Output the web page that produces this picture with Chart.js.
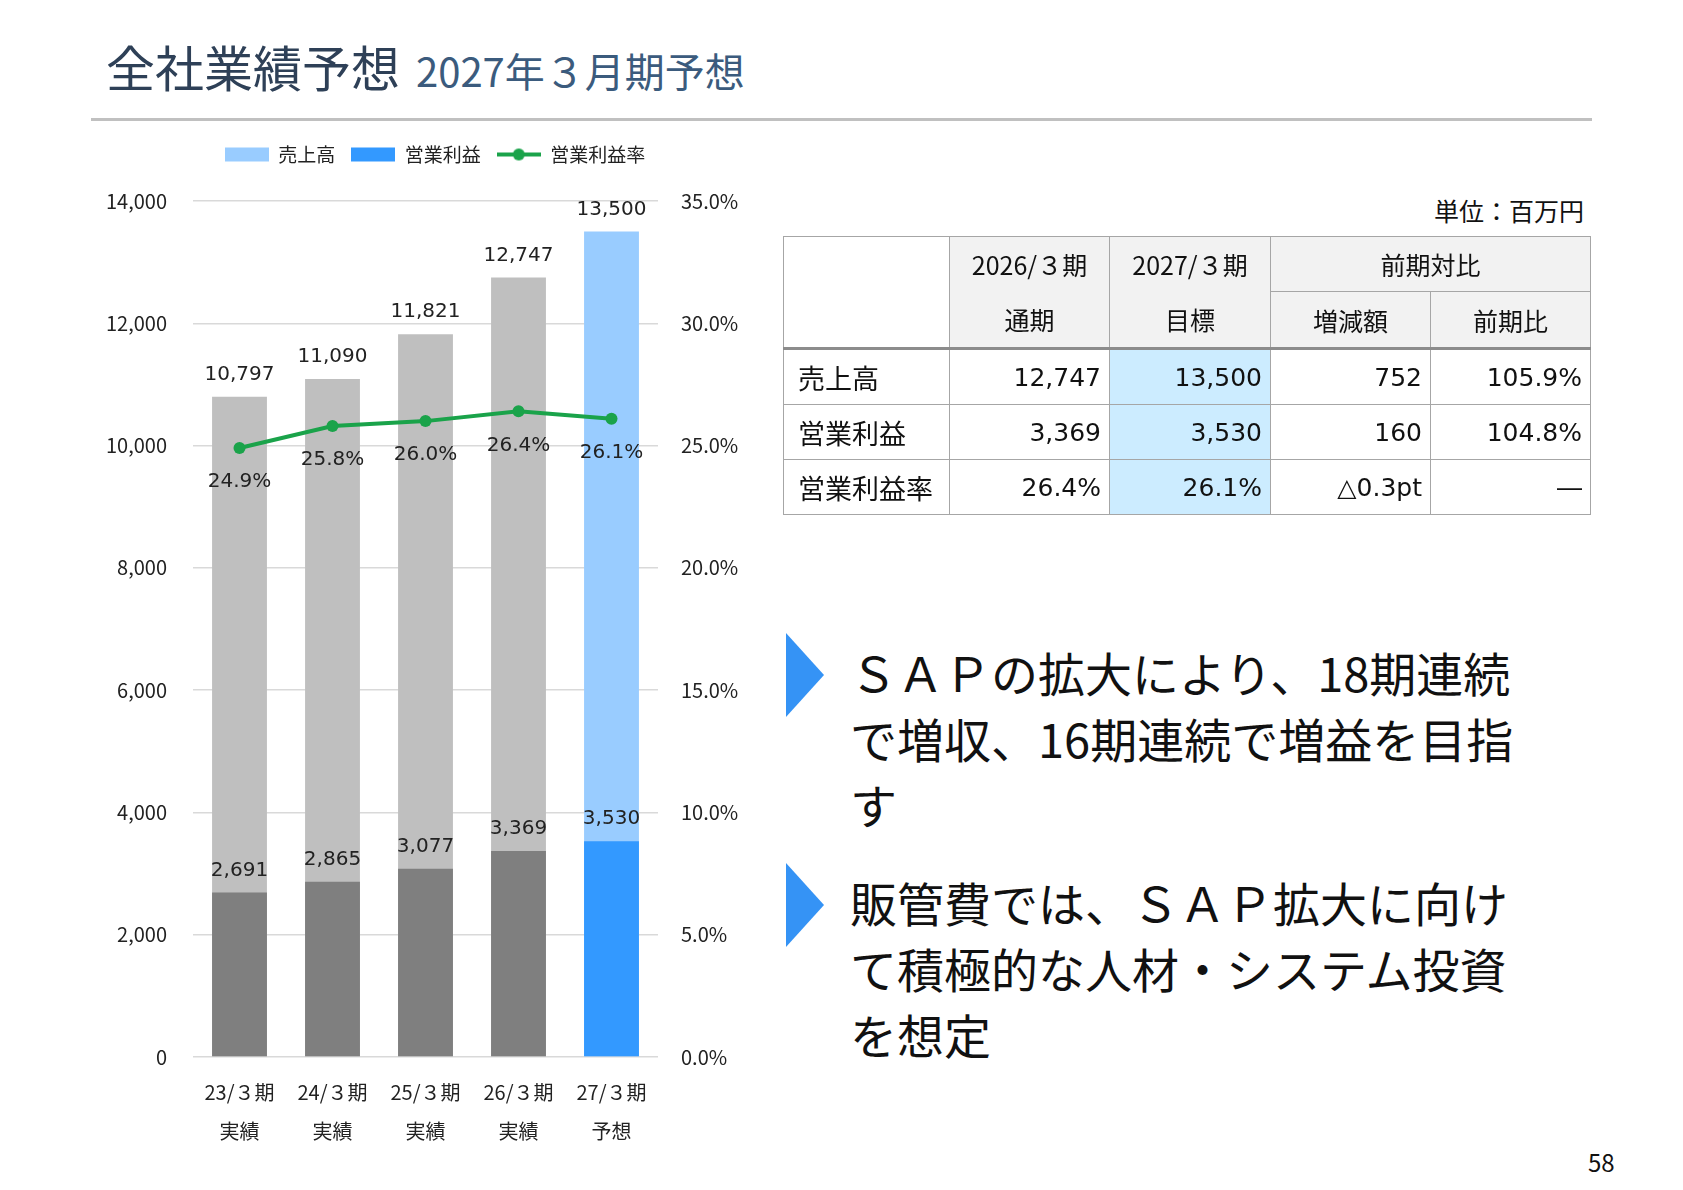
<!DOCTYPE html>
<html lang="ja">
<head>
<meta charset="utf-8">
<script src="https://cdn.jsdelivr.net/npm/chart.js@4.4.1/dist/chart.umd.min.js"></script>
<style>
  html, body { margin: 0; padding: 0; background: #fff; }
  body { width: 1683px; height: 1190px; position: relative; overflow: hidden;
         font-family: "Noto Sans CJK JP", "Noto Sans", sans-serif; color: #111; }
  .title { position: absolute; left: 106px; top: 30px; font-size: 49px; color: #2E4057; white-space: nowrap; }
  .title .sub { font-size: 40px; color: #3B5B7D; margin-left: 16px; }
  .rule { position: absolute; left: 91px; top: 118px; width: 1501px; height: 3px; background: #C0C0C0; }
  #chartBox { position: absolute; left: 85px; top: 129px; width: 700px; height: 1040px; }
  .unit { position: absolute; right: 99px; top: 192px; font-size: 25px; color: #111; }
  table.kpi { position: absolute; left: 783px; top: 236px; border-collapse: collapse; table-layout: fixed; }
  table.kpi td { border: 1.5px solid #A6A6A6; height: 54px; padding: 0 8px; font-size: 26px; white-space: nowrap; }
  table.kpi .h { background: #F2F2F2; text-align: center; font-size: 25px; }
  table.kpi .hh { line-height: 55px; padding: 0; }
  table.kpi td.hb { border-bottom: 3px solid #8C8C8C; }
  table.kpi .lbl { text-align: left; padding-left: 14px; font-size: 27px; }
  table.kpi .num { text-align: right; font-family: "DejaVu Sans", "Noto Sans CJK JP", sans-serif; font-size: 25px; }
  table.kpi .hl { background: #CCECFF; }
  .bullet { position: absolute; left: 786px; width: 0; height: 0; border-top: 42px solid transparent;
            border-bottom: 42px solid transparent; border-left: 38px solid #3593F5; }
  .btext { position: absolute; left: 850px; font-size: 47px; line-height: 66px; color: #111; white-space: nowrap; }
  .page { position: absolute; left: 1588px; top: 1144px; font-size: 24px; }
</style>
</head>
<body>
<div class="title">全社業績予想<span class="sub">2027年３月期予想</span></div>
<div class="rule"></div>

<div id="chartBox"><canvas id="perfChart" width="700" height="1040"></canvas></div>

<div class="unit">単位：百万円</div>
<table class="kpi">
  <colgroup><col style="width:166px"><col style="width:160px"><col style="width:161px"><col style="width:160px"><col style="width:160px"></colgroup>
  <tr>
    <td rowspan="2" class="hb" style="background:#fff"></td>
    <td rowspan="2" class="h hh hb">2026/３期<br>通期</td>
    <td rowspan="2" class="h hh hb">2027/３期<br>目標</td>
    <td colspan="2" class="h">前期対比</td>
  </tr>
  <tr>
    <td class="h hb">増減額</td>
    <td class="h hb">前期比</td>
  </tr>
  <tr>
    <td class="lbl">売上高</td><td class="num">12,747</td><td class="num hl">13,500</td><td class="num">752</td><td class="num">105.9%</td>
  </tr>
  <tr>
    <td class="lbl">営業利益</td><td class="num">3,369</td><td class="num hl">3,530</td><td class="num">160</td><td class="num">104.8%</td>
  </tr>
  <tr>
    <td class="lbl">営業利益率</td><td class="num">26.4%</td><td class="num hl">26.1%</td><td class="num">△0.3pt</td><td class="num">―</td>
  </tr>
</table>

<div class="bullet" style="top:633px"></div>
<div class="btext" style="top:639px">ＳＡＰの拡大により、18期連続<br>で増収、16期連続で増益を目指<br>す</div>
<div class="bullet" style="top:863px"></div>
<div class="btext" style="top:869px">販管費では、ＳＡＰ拡大に向け<br>て積極的な人材・システム投資<br>を想定</div>

<div class="page">58</div>

<script>
// chart data
const categories = [['23/３期', '実績'], ['24/３期', '実績'], ['25/３期', '実績'], ['26/３期', '実績'], ['27/３期', '予想']];
const sales = [10797, 11090, 11821, 12747, 13500];
const operatingProfit = [2691, 2865, 3077, 3369, 3530];
const profitMargin = [24.9, 25.8, 26.0, 26.4, 26.1];
const seriesNames = ['売上高', '営業利益', '営業利益率'];

const salesColors = ['#BFBFBF', '#BFBFBF', '#BFBFBF', '#BFBFBF', '#99CCFF'];
const profitColors = ['#7F7F7F', '#7F7F7F', '#7F7F7F', '#7F7F7F', '#3399FF'];
const lineColor = '#1AA34A';
const axisFont = { family: '"Noto Sans CJK JP", sans-serif', size: 20 };

// legend swatches
function swatch(kind, color) {
    const c = document.createElement('canvas');
    c.width = 44; c.height = 16;
    const g = c.getContext('2d');
    if (kind === 'bar') {
        g.fillStyle = color;
        g.fillRect(0, 1, 44, 14);
    } else {
        g.strokeStyle = color;
        g.lineWidth = 4;
        g.beginPath(); g.moveTo(0, 8); g.lineTo(44, 8); g.stroke();
        g.fillStyle = color;
        g.beginPath(); g.arc(22, 8, 6, 0, Math.PI * 2); g.fill();
    }
    return c;
}
const legendIcons = [swatch('bar', '#99CCFF'), swatch('bar', '#3399FF'), swatch('line', lineColor)];

// value labels on bars and points
const valueLabels = {
    id: 'valueLabels',
    afterDatasetsDraw(chart) {
        const ctx = chart.ctx;
        ctx.save();
        ctx.font = '20px "DejaVu Sans", sans-serif';
        ctx.fillStyle = '#222';
        ctx.textAlign = 'center';
        ctx.textBaseline = 'middle';
        chart.data.datasets.forEach((ds, i) => {
            const meta = chart.getDatasetMeta(i);
            meta.data.forEach((el, j) => {
                const v = ds.data[j];
                if (ds.type === 'line') {
                    ctx.fillText(v.toFixed(1) + '%', el.x, el.y + 34);
                } else {
                    ctx.fillText(v.toLocaleString('en-US'), el.x, el.y - 22);
                }
            });
        });
        ctx.restore();
    }
};

const legendSpace = {
    id: 'legendSpace',
    beforeInit(chart) {
        const fit = chart.legend.fit;
        chart.legend.fit = function () {
            fit.call(this);
            this.height = 72;
        };
    }
};

new Chart(document.getElementById('perfChart'), {
    data: {
        labels: categories,
        datasets: [{
            type: 'bar',
            label: seriesNames[0],
            data: sales,
            backgroundColor: salesColors,
            order: 3
        }, {
            type: 'bar',
            label: seriesNames[1],
            data: operatingProfit,
            backgroundColor: profitColors,
            order: 2
        }, {
            type: 'line',
            label: seriesNames[2],
            data: profitMargin,
            yAxisID: 'y1',
            borderColor: lineColor,
            backgroundColor: lineColor,
            borderWidth: 4,
            pointRadius: 6,
            pointBackgroundColor: lineColor,
            pointBorderWidth: 0,
            order: 1
        }]
    },
    options: {
        responsive: false,
        animation: false,
        layout: { padding: 0 },
        datasets: {
            bar: { grouped: false, barPercentage: 0.59, categoryPercentage: 1.0 }
        },
        scales: {
            x: {
                grid: { display: false },
                border: { display: false },
                ticks: {
                    color: '#222',
                    padding: 8,
                    maxRotation: 0,
                    font: { ...axisFont, lineHeight: 1.95 }
                },
                afterFit(scale) { scale.height = 112; }
            },
            y: {
                position: 'left',
                min: 0, max: 14000,
                ticks: {
                    stepSize: 2000,
                    color: '#222',
                    padding: 26,
                    font: axisFont,
                    callback: v => v.toLocaleString('en-US')
                },
                grid: { color: '#D9D9D9', lineWidth: 1.5, drawTicks: false },
                border: { display: false },
                afterFit(scale) { scale.width = 108; }
            },
            y1: {
                position: 'right',
                min: 0, max: 35,
                ticks: {
                    stepSize: 5,
                    color: '#222',
                    padding: 23,
                    font: axisFont,
                    callback: v => v.toFixed(1) + '%'
                },
                grid: { display: false, drawTicks: false },
                border: { display: false },
                afterFit(scale) { scale.width = 127; }
            }
        },
        plugins: {
            legend: {
                position: 'top',
                labels: {
                    usePointStyle: true,
                    pointStyleWidth: 44,
                    padding: 16,
                    color: '#222',
                    font: { family: '"Noto Sans CJK JP", sans-serif', size: 19 },
                    generateLabels(chart) {
                        return chart.data.datasets.map((ds, i) => ({
                            text: ds.label,
                            pointStyle: legendIcons[i],
                            fillStyle: '#fff',
                            strokeStyle: '#fff',
                            lineWidth: 0,
                            fontColor: '#222',
                            hidden: false,
                            datasetIndex: i
                        }));
                    },
                    sort: (a, b) => a.datasetIndex - b.datasetIndex
                }
            },
            tooltip: { enabled: false }
        }
    },
    plugins: [valueLabels, legendSpace]
});
</script>
</body>
</html>
